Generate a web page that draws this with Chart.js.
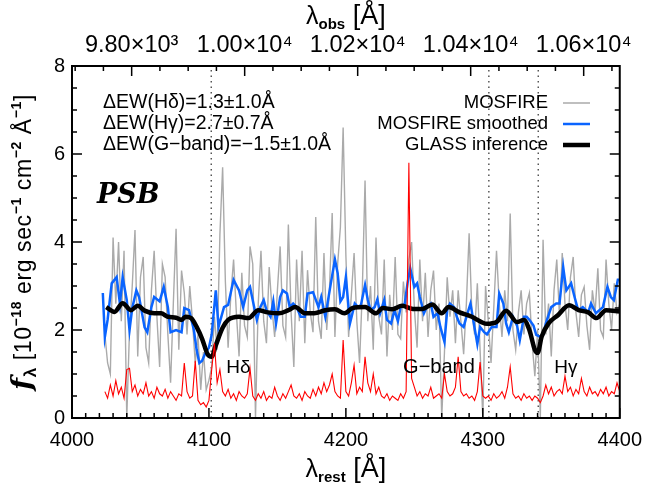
<!DOCTYPE html>
<html>
<head>
<meta charset="utf-8">
<script src="https://cdn.jsdelivr.net/npm/chart.js"></script>
<style>
  html, body { margin: 0; padding: 0; background: #fff; }
  #wrap { width: 652px; height: 489px; }
</style>
</head>
<body>
<div id="wrap"><canvas id="specChart" width="652" height="489"></canvas></div>
<script>
// redshift factor used for the top (observed) axis
const ONE_PLUS_Z = 2.4236;

// raw MOSFIRE spectrum, sampled every 2 A (rest) starting at 4024 A
const rawStart = 4024;
const rawStep = 2;
const rawFlux = [
  1.9, 1.25, 1.0, 4.1, 2.6, 4.0, 2.2, 3.8, 0.0, 2.0,
  3.0, 4.27, 1.4, 3.2, 3.66, 1.6, 1.25, 2.9, 3.8, 2.3,
  1.16, 3.5, 3.2, 1.9, 0.8, 2.6, 4.3, 1.55, 3.35, 2.84,
  1.9, 3.0, 2.2, 1.25, 1.9, 0.64, 1.5, 0.64, 0.86, 1.16,
  2.3, 1.55, 4.16, 5.7, 3.1, 1.6, 2.8, 3.6, 2.4, 1.4,
  3.3, 2.1, 1.84, 3.9, 3.5, 0.0, 2.6, 3.8, 2.2, 1.7,
  3.43, 2.5, 1.84, 2.9, 3.9, 2.1, 1.84, 4.4, 2.4, 1.16,
  3.6, 2.2, 3.8, 1.7, 3.36, 2.4, 1.95, 4.57, 2.2, 1.8,
  3.75, 2.0, 2.9, 4.66, 1.84, 3.5, 4.34, 6.6, 3.7, 1.84,
  2.8, 3.75, 2.2, 1.25, 2.9, 5.4, 2.2, 3.0, 1.55, 4.1,
  2.3, 1.9, 3.6, 1.4, 2.8, 2.0, 3.66, 1.9, 1.8, 3.1,
  2.4, 3.6, 4.0, 2.5, 1.6, 3.6, 2.2, 3.3, 1.84, 2.9,
  3.35, 2.0, 2.6, 0.0, 1.5, 3.2, 2.3, 2.9, 1.7, 2.9,
  2.2, 1.45, 2.6, 4.2, 2.4, 1.9, 3.06, 1.55, 0.0, 3.0,
  2.2, 1.25, 2.5, 3.8, 2.6, 1.84, 2.9, 2.2, 4.65, 2.0,
  1.55, 2.4, 2.9, 1.9, 2.6, 2.84, 1.7, 0.95, 2.0, 0.0,
  4.05, 1.9, 2.6, 1.4, 2.9, 3.6, 2.3, 3.75, 2.6, 2.0,
  3.2, 3.66, 2.4, 1.84, 2.8, 2.98, 2.1, 1.55, 2.9, 2.4,
  3.4, 2.0, 1.84, 3.6, 2.6, 2.0, 3.06, 2.4, 2.6
];

// noise spectrum on the same grid
const errFlux = [
  0.6, 0.45, 0.75, 0.5, 0.85, 0.55, 0.7, 0.45, 1.1, 1.13,
  0.6, 0.75, 0.5, 0.65, 0.55, 0.8, 0.5, 0.6, 0.45, 0.7,
  0.55, 0.5, 0.65, 0.45, 0.6, 0.5, 0.4, 0.55, 0.5, 1.25,
  0.6, 0.45, 0.5, 1.3, 0.4, 0.3, 0.35, 0.25, 0.4, 1.1,
  1.7, 0.8, 1.1, 0.6, 0.5, 0.65, 0.45, 0.55, 0.4, 0.6,
  0.5, 0.45, 0.55, 1.13, 0.5, 0.4, 0.55, 0.45, 0.6, 0.4,
  0.5, 0.45, 0.7, 0.5, 0.4, 0.55, 0.45, 0.6, 0.75, 0.5,
  0.45, 0.55, 0.4, 0.6, 0.5, 0.45, 0.65, 0.5, 0.7, 0.55,
  0.8, 0.6, 0.75, 1.0, 0.6, 0.5, 0.45, 1.77, 0.6, 0.5,
  0.8, 1.2, 0.55, 0.7, 0.6, 1.39, 0.8, 0.6, 1.0, 0.55,
  0.7, 0.5, 0.45, 0.55, 0.4, 0.5, 0.45, 0.4, 0.55, 0.45,
  0.6, 5.8, 0.9, 0.7, 0.5, 0.6, 0.45, 0.55, 0.5, 0.7,
  0.45, 0.5, 0.55, 0.45, 1.0, 0.6, 0.5, 0.55, 0.7, 1.39,
  0.6, 0.5, 0.55, 0.45, 0.5, 0.4, 0.6, 1.27, 0.5, 0.45,
  0.5, 0.4, 0.55, 0.45, 0.5, 0.6, 0.45, 0.7, 1.16, 0.55,
  0.45, 0.5, 0.4, 0.55, 0.45, 0.5, 0.4, 0.5, 0.45, 0.35,
  0.5, 0.75, 0.55, 0.7, 0.5, 0.6, 0.65, 0.55, 0.95, 0.6,
  0.7, 0.5, 0.65, 0.55, 0.9, 0.6, 0.5, 0.7, 0.55, 0.6,
  0.5, 0.65, 0.55, 0.7, 0.5, 0.6, 0.55, 0.8, 0.6
];

// smoothed MOSFIRE spectrum
const smoothWave = [
  4022.5, 4024, 4026, 4029, 4032.6, 4035, 4037, 4040, 4042, 4044,
  4047, 4049, 4053, 4055, 4058, 4060, 4064, 4067, 4070, 4072,
  4076, 4080, 4082, 4085.5, 4089, 4091, 4093, 4095, 4097, 4100,
  4102, 4105, 4107, 4111, 4114, 4118, 4122, 4125, 4128, 4130,
  4133, 4135, 4137.5, 4140, 4142, 4145, 4147, 4149, 4152, 4154,
  4157, 4159, 4161.5, 4164, 4167, 4170, 4172, 4176, 4180, 4182,
  4185, 4187, 4189, 4192, 4194, 4196, 4198, 4200, 4203, 4206.5,
  4209, 4211, 4214, 4216, 4218, 4221, 4223, 4225, 4228, 4230,
  4233, 4235.5, 4238, 4240, 4243, 4245, 4247, 4250, 4252, 4254,
  4257, 4259, 4262, 4264, 4267, 4269, 4272, 4274, 4276, 4279,
  4281, 4283, 4286, 4288, 4291, 4293, 4296, 4298, 4301, 4303,
  4306.5, 4310, 4312, 4315, 4317, 4319, 4322, 4325, 4327, 4330,
  4332, 4334, 4337, 4339, 4341.5, 4344, 4346, 4350, 4353.6, 4356,
  4358.7, 4361, 4364.5, 4367, 4369.6, 4373, 4377, 4379, 4382.6, 4387.7,
  4391, 4393.5, 4395.7, 4398.6, 4400
];
const smoothFlux = [
  2.84, 1.84, 2.23, 3.06, 3.2, 2.6, 3.2, 2.68, 2.0, 2.5,
  2.9, 2.75, 2.06, 1.95, 2.52, 2.75, 2.65, 2.98, 2.52, 1.95,
  2.0, 1.95, 2.5, 2.45, 2.0, 1.55, 1.25, 1.3, 1.45, 1.6,
  1.89, 2.9, 2.07, 2.52, 2.57, 3.14, 2.9, 2.52, 2.9, 2.98,
  2.52, 2.23, 2.52, 2.68, 2.45, 2.3, 2.65, 2.15, 2.75, 2.9,
  2.83, 2.52, 2.6, 2.52, 2.3, 2.3, 2.83, 2.86, 2.52, 2.75,
  2.3, 2.68, 3.06, 3.6, 3.29, 2.65, 2.75, 3.2, 2.15, 2.6,
  2.52, 2.57, 3.02, 2.68, 2.45, 2.52, 2.7, 2.38, 2.68, 2.23,
  2.15, 2.45, 2.2, 2.52, 2.6, 3.06, 3.4, 2.98, 3.06, 2.75,
  2.38, 2.52, 2.6, 2.3, 2.38, 2.07, 1.73, 2.45, 2.6, 2.52,
  2.3, 2.15, 2.07, 2.3, 2.6, 2.23, 1.68, 2.07, 1.95, 1.9,
  2.07, 2.07, 2.83, 2.6, 2.15, 1.95, 2.3, 2.1, 1.77, 2.3,
  2.3, 2.23, 2.1, 1.89, 1.85, 1.89, 2.15, 2.52, 2.6, 2.6,
  3.43, 2.9, 3.06, 2.75, 2.45, 2.52, 2.4, 2.6, 2.38, 2.52,
  2.98, 2.75, 2.68, 3.14, 3.14
];

// GLASS inference model
const modelWave = [
  4025, 4031, 4037, 4043, 4048, 4053, 4060, 4065, 4070, 4076,
  4080, 4083, 4087, 4091, 4095, 4099, 4102, 4105, 4110, 4114,
  4122, 4129, 4136, 4143, 4151, 4158, 4163, 4170, 4177, 4185,
  4192, 4199, 4205, 4214, 4222, 4227, 4234, 4241, 4249, 4256,
  4263, 4270, 4275, 4283, 4292, 4299, 4303, 4310, 4317, 4325,
  4330, 4334, 4338, 4340, 4343, 4348, 4355, 4363, 4370, 4377,
  4383, 4390, 4400
];
const modelFlux = [
  2.52, 2.41, 2.61, 2.45, 2.55, 2.44, 2.38, 2.38, 2.3, 2.28,
  2.23, 2.3, 2.27, 2.07, 1.8, 1.45, 1.39, 1.65, 2.05, 2.23,
  2.3, 2.27, 2.45, 2.4, 2.38, 2.45, 2.52, 2.38, 2.38, 2.45,
  2.47, 2.38, 2.5, 2.52, 2.38, 2.5, 2.47, 2.55, 2.48, 2.48,
  2.58, 2.38, 2.52, 2.4, 2.3, 2.18, 2.14, 2.18, 2.44, 2.18,
  2.23, 2.0, 1.55, 1.48, 1.85, 2.15, 2.34, 2.56, 2.45, 2.4,
  2.27, 2.45, 2.42
];

// absorption features
const featureWave = [4101.7, 4304.4, 4340.5];
const featureNames = ['Hδ', 'G−band', 'Hγ'];
const ewLabels = ['ΔEW(Hδ)=1.3±1.0Å', 'ΔEW(Hγ)=2.7±0.7Å', 'ΔEW(G−band)=−1.5±1.0Å'];
const legendLabels = ['MOSFIRE', 'MOSFIRE smoothed', 'GLASS inference'];
const legendColors = ['#aaaaaa', '#0a64ff', '#000000'];
const legendWidths = [1.5, 2.5, 4.5];

const restTicks = [4000, 4100, 4200, 4300, 4400];
const obsTicks = [9800, 10000, 10200, 10400, 10600];
const fluxTicks = [0, 2, 4, 6, 8];

function toPoints(xs, ys) {
  return ys.map((y, i) => ({ x: xs[i], y: y }));
}
function gridPoints(start, step, ys) {
  return ys.map((y, i) => ({ x: start + i * step, y: y }));
}

const SUP = { '0': '⁰', '1': '¹', '2': '²', '3': '³', '4': '⁴', '5': '⁵', '6': '⁶', '7': '⁷', '8': '⁸', '9': '⁹' };
function sciLabel(v) {
  const e = Math.floor(Math.log10(v) + 1e-9);
  const m = v / Math.pow(10, e);
  return m.toFixed(2) + '×10' + String(e).split('').map(c => SUP[c]).join('');
}

// draw a string made of pieces with their own font and vertical shift
function drawRich(ctx, parts, x, y, align) {
  let total = 0;
  parts.forEach(p => {
    ctx.font = p.f;
    p.w = ctx.measureText(p.t).width;
    total += p.w;
  });
  let cx = x;
  if (align === 'center') cx = x - total / 2;
  if (align === 'right') cx = x - total;
  ctx.textAlign = 'left';
  parts.forEach(p => {
    ctx.font = p.f;
    ctx.fillText(p.t, cx, y + (p.dy || 0));
    cx += p.w;
  });
}

const SANS = '"Liberation Sans", Arial, sans-serif';

const decorPlugin = {
  id: 'decor',
  afterDraw(chart) {
    const ctx = chart.ctx;
    const a = chart.chartArea;
    const xs = chart.scales.x;
    const xt = chart.scales.xTop;
    const ys = chart.scales.y;
    ctx.save();
    ctx.strokeStyle = '#000';
    ctx.fillStyle = '#000';

    // frame
    ctx.lineWidth = 2;
    ctx.strokeRect(a.left, a.top, a.right - a.left, a.bottom - a.top);

    // inward ticks
    ctx.lineWidth = 1.5;
    ctx.beginPath();
    for (let v = 4000; v <= 4400; v += 10) {
      const px = xs.getPixelForValue(v);
      const len = v % 100 === 0 ? 10 : 5;
      ctx.moveTo(px, a.bottom); ctx.lineTo(px, a.bottom - len);
    }
    for (let v = 9700; v <= 10650; v += 50) {
      const px = xt.getPixelForValue(v);
      if (px < a.left || px > a.right) continue;
      const len = v % 200 === 0 ? 10 : 5;
      ctx.moveTo(px, a.top); ctx.lineTo(px, a.top + len);
    }
    for (let v = 0; v <= 8; v += 0.5) {
      const py = ys.getPixelForValue(v);
      const len = v % 2 === 0 ? 10 : 5;
      ctx.moveTo(a.left, py); ctx.lineTo(a.left + len, py);
      ctx.moveTo(a.right, py); ctx.lineTo(a.right - len, py);
    }
    ctx.stroke();

    // EW annotations and legend
    ctx.textBaseline = 'middle';
    const rowY = [103, 124, 145];
    ewLabels.forEach((t, i) => {
      drawRich(ctx, [{ t: t, f: '19.5px ' + SANS }], 103, rowY[i], 'left');
    });
    legendLabels.forEach((t, i) => {
      drawRich(ctx, [{ t: t, f: '18.5px ' + SANS }], 548, rowY[i], 'right');
      ctx.strokeStyle = legendColors[i];
      ctx.lineWidth = legendWidths[i];
      ctx.beginPath();
      ctx.moveTo(563, rowY[i]); ctx.lineTo(590, rowY[i]);
      ctx.stroke();
    });

    // PSB tag
    ctx.textBaseline = 'alphabetic';
    ctx.fillStyle = '#000';
    ctx.font = 'bold italic 27px "DejaVu Serif", "Liberation Serif", serif';
    ctx.textAlign = 'left';
    ctx.fillText('PSB', 97, 203);

    // feature labels
    ctx.textBaseline = 'middle';
    const ly = ys.getPixelForValue(1.15);
    drawRich(ctx, [{ t: featureNames[0], f: '19px ' + SANS }], xs.getPixelForValue(featureWave[0]) + 15, ly, 'left');
    drawRich(ctx, [{ t: featureNames[1], f: '20px ' + SANS }], xs.getPixelForValue(featureWave[1]) - 14, ly, 'right');
    drawRich(ctx, [{ t: featureNames[2], f: '19px ' + SANS }], xs.getPixelForValue(featureWave[2]) + 16, ly, 'left');

    // axis titles
    ctx.textBaseline = 'alphabetic';
    const cxm = (a.left + a.right) / 2;
    drawRich(ctx, [
      { t: 'λ', f: '25px ' + SANS },
      { t: 'rest', f: 'bold 15px ' + SANS, dy: 5 },
      { t: ' [Å]', f: '27px ' + SANS }
    ], cxm, 477, 'center');
    drawRich(ctx, [
      { t: 'λ', f: '25px ' + SANS },
      { t: 'obs', f: 'bold 15px ' + SANS, dy: 5 },
      { t: ' [Å]', f: '27px ' + SANS }
    ], cxm, 24, 'center');

    ctx.translate(31, (a.top + a.bottom) / 2);
    ctx.rotate(-Math.PI / 2);
    ctx.letterSpacing = '0.6px';
    drawRich(ctx, [
      { t: 'f', f: 'bold italic 28px "DejaVu Serif", serif' },
      { t: 'λ', f: 'bold 17px ' + SANS, dy: 5 },
      { t: ' [10', f: '23px ' + SANS },
      { t: '−18', f: 'bold 14px ' + SANS, dy: -10 },
      { t: ' erg sec', f: '23px ' + SANS },
      { t: '−1', f: 'bold 14px ' + SANS, dy: -10 },
      { t: ' cm', f: '23px ' + SANS },
      { t: '−2', f: 'bold 14px ' + SANS, dy: -10 },
      { t: ' Å', f: '23px ' + SANS },
      { t: '−1', f: 'bold 14px ' + SANS, dy: -10 },
      { t: ']', f: '23px ' + SANS }
    ], 0, 0, 'center');
    ctx.restore();
  }
};

function vline(w) {
  return {
    data: [{ x: w, y: 0 }, { x: w, y: 8 }],
    borderColor: '#555555',
    borderWidth: 1.5,
    borderDash: [1.5, 4],
    pointRadius: 0,
    tension: 0
  };
}

const ctx = document.getElementById('specChart').getContext('2d');
new Chart(ctx, {
  type: 'line',
  data: {
    datasets: [
      { label: 'noise', data: gridPoints(rawStart, rawStep, errFlux), borderColor: '#ff0000', borderWidth: 1.1, pointRadius: 0, tension: 0 },
      { label: legendLabels[2], data: toPoints(modelWave, modelFlux), borderColor: '#000000', borderWidth: 4.5, pointRadius: 0, tension: 0.4, cubicInterpolationMode: 'monotone' },
      { label: legendLabels[1], data: toPoints(smoothWave, smoothFlux), borderColor: '#0a64ff', borderWidth: 2.5, pointRadius: 0, tension: 0 },
      { label: legendLabels[0], data: gridPoints(rawStart, rawStep, rawFlux), borderColor: '#aaaaaa', borderWidth: 1.4, pointRadius: 0, tension: 0 },
      vline(featureWave[0]),
      vline(featureWave[1]),
      vline(featureWave[2])
    ]
  },
  options: {
    responsive: false,
    animation: false,
    events: [],
    layout: { padding: { right: 28, left: 0, top: 0, bottom: 0 } },
    plugins: { legend: { display: false }, tooltip: { enabled: false } },
    scales: {
      x: {
        type: 'linear', position: 'bottom', min: 4000, max: 4400,
        grid: { display: false, drawTicks: false },
        border: { display: false },
        afterBuildTicks: s => { s.ticks = restTicks.map(v => ({ value: v })); },
        afterFit: s => { s.height = 71; },
        ticks: { padding: 10, color: '#000', maxRotation: 0, autoSkip: false, font: { family: SANS, size: 20 }, callback: v => String(v) }
      },
      xTop: {
        type: 'linear', position: 'top', min: 4000 * ONE_PLUS_Z, max: 4400 * ONE_PLUS_Z,
        grid: { display: false, drawTicks: false },
        border: { display: false },
        afterBuildTicks: s => { s.ticks = obsTicks.map(v => ({ value: v })); },
        afterFit: s => { s.height = 66; },
        ticks: { padding: 6, color: '#000', maxRotation: 0, autoSkip: false, font: { family: SANS, size: 23.5 }, callback: v => sciLabel(v) }
      },
      y: {
        type: 'linear', position: 'left', min: 0, max: 8,
        grid: { display: false, drawTicks: false },
        border: { display: false },
        afterBuildTicks: s => { s.ticks = fluxTicks.map(v => ({ value: v })); },
        afterFit: s => { s.width = 72; },
        ticks: { padding: 7, color: '#000', font: { family: SANS, size: 20 }, callback: v => String(v) }
      }
    }
  },
  plugins: [decorPlugin]
});
</script>
</body>
</html>
